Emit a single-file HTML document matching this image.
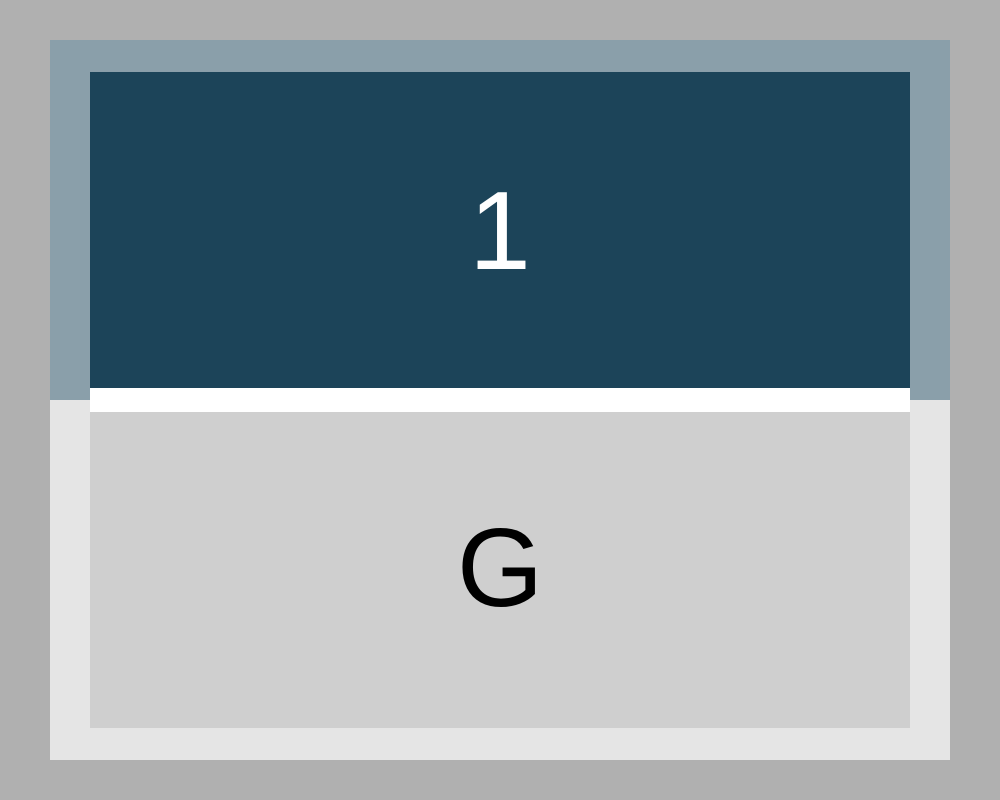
<!DOCTYPE html>
<html><head><meta charset="utf-8"><style>
body{margin:0;width:1000px;height:800px;background:#b0b0b0;position:relative;overflow:hidden;font-family:"Liberation Sans",sans-serif}
div{position:absolute}
.t{left:0;width:820px;text-align:center;font-size:111px;line-height:1}
</style></head><body>
<div style="left:50px;top:40px;width:900px;height:360px;background:#8a9faa"></div>
<div style="left:50px;top:400px;width:900px;height:360px;background:#e5e5e5"></div>
<div style="left:90px;top:388px;width:820px;height:24px;background:#fff"></div>
<div style="left:90px;top:72px;width:820px;height:316px;background:#1c4459">
<div class="t" style="top:104px;color:#fff">1</div></div>
<div style="left:90px;top:412px;width:820px;height:316px;background:#cfcfcf">
<div class="t" style="top:101px;color:#000">G</div></div>
</body></html>
